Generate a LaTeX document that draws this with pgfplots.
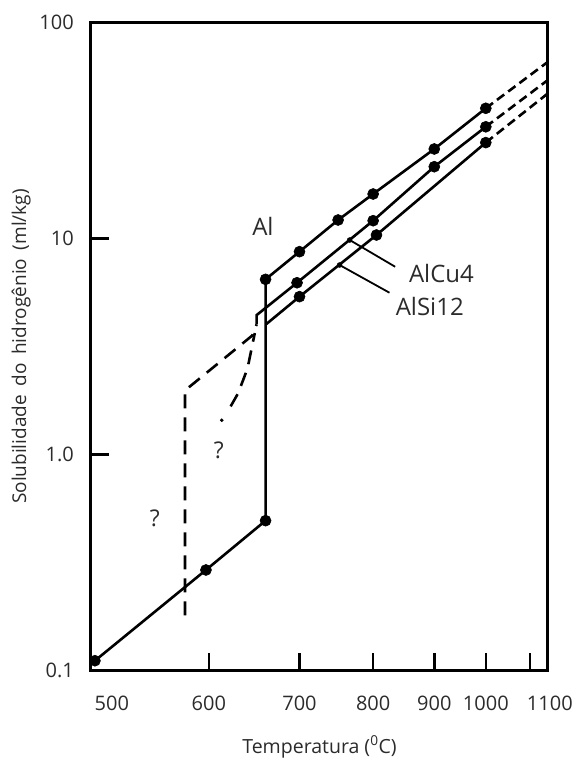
\documentclass[border=0pt]{standalone}
\usepackage{pgfplots}
\pgfplotsset{compat=1.18}
\usepackage{fontspec}
\setmainfont{Open Sans}
\definecolor{txt}{HTML}{2B2B2B}
\newcommand{\tf}{\fontsize{20}{24}\selectfont}
\newcommand{\xf}{\fontsize{19.5}{24}\selectfont}
\newcommand{\yf}{\fontsize{19}{23}\selectfont}
\newcommand{\lf}{\fontsize{24}{29}\selectfont}
\newcommand{\qf}{\fontsize{23}{27}\selectfont}
\begin{document}
\begin{tikzpicture}
\begin{axis}[
  scale only axis, width=457pt, height=648pt,
  x coord trafo/.code={\pgfmathparse{-1000/(#1+273)}},
  xmin=497, xmax=1146,
  ymode=log, ymin=0.1, ymax=100,
  xtick={600,700,800,900,1000,1100},
  xticklabels={600,700,800,900,1000,\makebox[0pt]{\hspace*{40pt}1100}},
  extra x ticks={500},
  extra x tick labels={\makebox[0pt]{\hspace*{34pt}500}},
  extra x tick style={tick style={draw=none}},
  ytick={0.1,1,10,100}, yticklabels={0.1,1.0,10,100},
  yminorticks=false, xminorticks=false,
  xtick pos=left, ytick pos=left,
  tick align=inside,
  major tick length=18pt,
  tick style={line width=2.6pt, black},
  axis line style={line width=3pt},
  xticklabel style={font=\tf, text=txt, inner sep=0pt, anchor=north, yshift=-25.5pt},
  yticklabel style={font=\tf, text=txt, inner sep=0pt, anchor=east, xshift=-17pt},
  xlabel={Temperatura (\textsuperscript{0}C)},
  xlabel style={font=\xf, text=txt, inner sep=0pt, at={(axis description cs:0.5,0)}, anchor=base, yshift=-82.5pt},
  ylabel={Solubilidade\hspace{0.45em}do\hspace{0.45em}hidrogênio\hspace{0.45em}(ml/kg)},
  ylabel style={font=\yf, text=txt, inner sep=0pt, at={(axis description cs:-0.153,0.5)}, anchor=center},
]
% Al
\addplot[line width=2.6pt] coordinates {(500,0.111)(597,0.292)(660,0.494)(660,6.47)(700,8.69)(750,12.18)(800,16.07)(900,25.97)(1000,40.07)};
\addplot[only marks, mark=*, mark size=5.5pt, mark options={line width=0.6pt}] coordinates {(500,0.111)(597,0.292)(660,0.494)(660,6.47)(700,8.69)(750,12.18)(800,16.07)(900,25.97)(1000,40.07)};
\addplot[line width=2.6pt, dash pattern=on 9pt off 5pt] coordinates {(1000,40.07)(1146,65.8)};
% AlCu4
\addplot[line width=2.6pt] coordinates {(650,4.0)(650,4.42)(697,6.24)(800,12.09)(900,21.5)(1000,32.9)};
\addplot[only marks, mark=*, mark size=5.5pt, mark options={line width=0.6pt}] coordinates {(697,6.24)(800,12.09)(900,21.5)(1000,32.9)};
\addplot[line width=2.6pt, dash pattern=on 9pt off 5pt] coordinates {(1000,32.9)(1146,54.2)};
% AlSi12
\addplot[line width=2.6pt] coordinates {(661,4.02)(700,5.38)(805,10.38)(1000,27.8)};
\addplot[only marks, mark=*, mark size=5.5pt, mark options={line width=0.6pt}] coordinates {(700,5.38)(805,10.38)(1000,27.8)};
\addplot[line width=2.6pt, dash pattern=on 9pt off 5pt] coordinates {(1000,27.8)(1146,47.0)};
% uncertain dashed paths
\addplot[line width=2.6pt, dash pattern=on 14pt off 9pt] coordinates {(577,0.18)(577,1.98)(645,3.55)(650,4.0)};
\addplot[line width=2.6pt, dash pattern=on 14pt off 9pt] coordinates {(622,1.67)(630,1.92)(640,2.5)(648,3.65)};
\addplot[only marks, mark=*, mark size=1.6pt] coordinates {(613,1.44)};
% leader lines
\addplot[line width=1.8pt] coordinates {(766,9.84)(834,7.40)};
\addplot[line width=1.8pt] coordinates {(752,7.54)(825,5.61)};
\addplot[only marks, mark=*, mark size=2.5pt] coordinates {(766,9.84)(752,7.54)};
% labels
\node[font=\lf, text=txt] at (axis cs:657,11.34) {Al};
\node[font=\lf, text=txt] at (axis cs:913,6.90) {AlCu4};
\node[font=\lf, text=txt] at (axis cs:892,4.83) {AlSi12};
\node[font=\qf, text=txt] at (axis cs:610,1.049) {?};
\node[font=\qf, text=txt] at (axis cs:549.6,0.506) {?};
\end{axis}
\path (current axis.south west) ++(-91pt,-87.5pt) (current axis.north east) ++(28pt,22.5pt);
\end{tikzpicture}
\end{document}
